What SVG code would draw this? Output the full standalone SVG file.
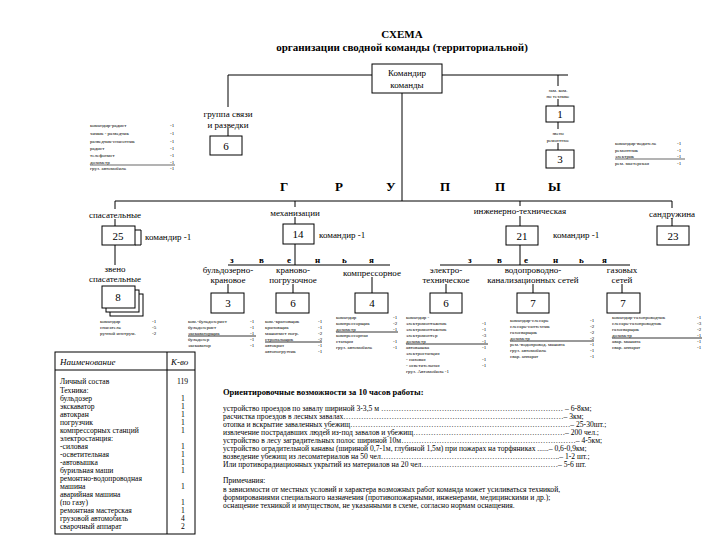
<svg xmlns="http://www.w3.org/2000/svg" width="720" height="540" viewBox="0 0 720 540">
<style>
text{font-family:"Liberation Serif","Times New Roman",serif;fill:#000}
.t{font-size:11px;font-weight:bold}
.l{font-size:9px}
.r{font-size:7.6px}
.s{font-size:5px}
.n{font-size:11px}
.b{font-size:13px;font-weight:bold}
.z{font-size:9px;font-weight:bold}
.m{text-anchor:middle}
rect{fill:#fff;stroke:#000;stroke-width:1}
line,path{stroke:#000;stroke-width:1;fill:none}
</style>
<rect x="0" y="0" width="720" height="540" style="stroke:none"/>
<text class="t m" x="402" y="38">СХЕМА</text>
<text class="t m" x="402" y="51">организации сводной команды  (территориальной)</text>
<g id="connectors">
<line x1="228" y1="75" x2="568" y2="75"/>
<line x1="228" y1="75" x2="228" y2="107"/>
<line x1="228" y1="128" x2="228" y2="136"/>
<line x1="558" y1="75" x2="558" y2="86"/>
<line x1="558" y1="99" x2="558" y2="106"/>
<line x1="402" y1="93" x2="402" y2="201"/>
<line x1="115" y1="201" x2="672" y2="201"/>
<line x1="115" y1="201" x2="115" y2="209"/>
<line x1="115" y1="219" x2="115" y2="226"/>
<line x1="115" y1="245" x2="115" y2="265"/>
<line x1="295" y1="201" x2="295" y2="207"/>
<line x1="295" y1="217" x2="295" y2="224"/>
<line x1="520" y1="201" x2="520" y2="206"/>
<line x1="520" y1="216" x2="520" y2="226"/>
<line x1="672" y1="201" x2="672" y2="208"/>
<line x1="672" y1="218" x2="672" y2="226"/>
<line x1="295" y1="244" x2="295" y2="265"/>
<line x1="228" y1="265" x2="390" y2="265"/>
<line x1="228" y1="284" x2="228" y2="293"/>
<line x1="293" y1="284" x2="293" y2="293"/>
<line x1="372" y1="277" x2="372" y2="293"/>
<line x1="520" y1="245" x2="520" y2="265"/>
<line x1="440" y1="265" x2="630" y2="265"/>
<line x1="446" y1="284" x2="446" y2="293"/>
<line x1="533" y1="284" x2="533" y2="293"/>
<line x1="622" y1="284" x2="622" y2="293"/>
<path d="M135 230 H141 V245 H135"/>
</g>
<g id="n-commander"><rect x="372" y="64" width="70" height="29"/>
<text class="l m" x="407" y="76">Командир</text><text class="l m" x="407" y="88">команды</text></g>
<g id="n-svyaz">
<text class="l m" x="228" y="117">группа связи</text><text class="l m" x="228" y="128">и разведки</text>
<rect x="210" y="136" width="32" height="19"/><text class="n m" x="226" y="150">6</text></g>
<g id="list-svyaz" class="s">
<text x="90" y="127">командир-радист</text><text x="90" y="135">химик - разведчик</text><text x="90" y="143">разведчик-снасотник</text><text x="90" y="150">радист</text><text x="90" y="157">телефонист</text><text x="90" y="164">дозиметр</text><text x="90" y="170">груз. автомобиль</text>
<text x="170" y="127">-1</text><text x="170" y="135">-1</text><text x="170" y="143">-1</text><text x="170" y="150">-1</text><text x="170" y="157">-1</text><text x="170" y="164">-1</text><text x="170" y="170">-1</text>
<line x1="90" y1="165" x2="175" y2="165" style="stroke-width:.6"/></g>
<g id="n-zam">
<text class="s m" x="558" y="92">зам. ком.</text><text class="s m" x="558" y="98">по технике</text>
<rect x="546" y="106" width="28" height="16"/><text class="n m" x="560" y="118">1</text>
<line x1="558" y1="122" x2="558" y2="129"/>
<text class="s m" x="558" y="135">звено</text><text class="s m" x="558" y="142">ремонтное</text>
<line x1="558" y1="143" x2="558" y2="150"/>
<rect x="546" y="150" width="28" height="18"/><text class="n m" x="560" y="163">3</text></g>
<g id="list-rem" class="s">
<text x="615" y="145">командир-водитель</text><text x="615" y="152">ремонтник</text><text x="615" y="158">электрик</text><text x="615" y="165">рем. мастерская</text>
<text x="677" y="145">-1</text><text x="677" y="152">-1</text><text x="677" y="158">-1</text><text x="677" y="165">-1</text>
<line x1="615" y1="159" x2="685" y2="159" style="stroke-width:.6"/></g>
<g id="groups" class="b">
<text x="280" y="191">Г</text><text x="335" y="191">Р</text><text x="386" y="191">У</text><text x="440" y="191">П</text><text x="495" y="191">П</text><text x="548" y="191">Ы</text></g>
<g id="n-spas">
<text class="l m" x="115" y="218">спасательные</text>
<rect x="102" y="226" width="33" height="19"/><text class="n m" x="118" y="240">25</text>
<text class="l" x="145" y="240">командир   -1</text></g>
<g id="n-mech">
<text class="l m" x="295" y="216">механизации</text>
<rect x="283" y="224" width="31" height="20"/><text class="n m" x="298" y="238">14</text>
<text class="l" x="319" y="238">командир   -1</text></g>
<g id="n-eng">
<text class="l m" x="520" y="214">инженерно-техническая</text>
<rect x="506" y="226" width="32" height="19"/><text class="n m" x="522" y="240">21</text>
<text class="l" x="553" y="238">командир   -1</text></g>
<g id="n-pozh">
<text class="l m" x="672" y="217">сандружина</text>
<rect x="657" y="226" width="32" height="19"/><text class="n m" x="673" y="240">23</text></g>
<g id="n-zveno-spas">
<text class="l m" x="115" y="272">звено</text><text class="l m" x="115" y="282">спасательные</text>
<rect x="110" y="294" width="33" height="22"/><rect x="106" y="290" width="33" height="22"/><rect x="102" y="286" width="33" height="22"/>
<text class="n m" x="118" y="301">8</text>
<g class="s"><text x="100" y="323">командир</text><text x="100" y="329">спасатель</text><text x="100" y="335">ручной инструм.</text>
<text x="152" y="323">-1</text><text x="152" y="329">-5</text><text x="152" y="335">-2</text></g></g>
<g id="zvenya1" class="z"><text x="230" y="263">з</text><text x="259" y="263">в</text><text x="287" y="263">е</text><text x="315" y="263">н</text><text x="342" y="263">ь</text><text x="369" y="263">я</text></g>
<g id="zvenya2" class="z"><text x="468" y="263">з</text><text x="497" y="263">в</text><text x="524" y="263">е</text><text x="553" y="263">н</text><text x="579" y="263">ь</text><text x="602" y="263">я</text></g>
<g id="n-buld">
<text class="l m" x="228" y="273">бульдозерно-</text><text class="l m" x="228" y="283">крановое</text>
<rect x="211" y="293" width="33" height="20"/><text class="n m" x="228" y="307">3</text>
<g class="s"><text x="188" y="323">ком.-бульдозерист</text><text x="188" y="329">бульдозерист</text><text x="188" y="335">экскаваторщик</text><text x="188" y="341">бульдозер</text><text x="188" y="347">экскаватор</text>
<text x="250" y="323">-1</text><text x="250" y="329">-1</text><text x="250" y="335">-1</text><text x="250" y="341">-1</text><text x="250" y="347">-1</text>
<line x1="188" y1="336" x2="256" y2="336" style="stroke-width:.8"/></g></g>
<g id="n-kran">
<text class="l m" x="293" y="273">крановo-</text><text class="l m" x="293" y="283">погрузочное</text>
<rect x="276" y="293" width="33" height="20"/><text class="n m" x="293" y="307">6</text>
<g class="s"><text x="265" y="323">ком.-крановщик</text><text x="265" y="329">крановщик</text><text x="265" y="335">машинист погр.</text><text x="265" y="341">стропальщик</text><text x="265" y="347">автокран</text><text x="265" y="353">автопогрузчик</text>
<text x="318" y="323">-1</text><text x="318" y="329">-1</text><text x="318" y="335">-2</text><text x="318" y="341">-2</text><text x="318" y="347">-1</text><text x="318" y="353">-1</text>
<line x1="265" y1="342" x2="322" y2="342" style="stroke-width:.8"/></g></g>
<g id="n-komp">
<text class="l m" x="372" y="276">компрессорное</text>
<rect x="355" y="293" width="33" height="20"/><text class="n m" x="372" y="307">4</text>
<g class="s"><text x="336" y="319">командир</text><text x="336" y="325">компрессорщик</text><text x="336" y="331">дозиметр</text><text x="336" y="337">компрессорная</text><text x="336" y="343">станция</text><text x="336" y="349">груз. автомобиль</text>
<text x="393" y="319">-1</text><text x="393" y="325">-2</text><text x="393" y="331">-1</text><text x="393" y="343">-1</text><text x="393" y="349">-1</text>
<line x1="336" y1="332" x2="398" y2="332" style="stroke-width:.8"/></g></g>
<g id="n-elec">
<text class="l m" x="446" y="273">электро-</text><text class="l m" x="446" y="283">техническое</text>
<rect x="430" y="293" width="32" height="20"/><text class="n m" x="446" y="307">6</text>
<g class="s"><text x="406" y="319">командир -</text><text x="406" y="325">электромонтажник</text><text x="406" y="331">электромонтажник</text><text x="406" y="337">электромонтер</text><text x="406" y="343">дозиметр</text><text x="406" y="349">автовышка</text><text x="406" y="355">электростанция</text><text x="406" y="361">- силовая</text><text x="406" y="367">- осветительная</text><text x="406" y="373">груз. Автомобиль -1</text>
<text x="482" y="325">-1</text><text x="482" y="331">-1</text><text x="482" y="337">-3</text><text x="482" y="343">-1</text><text x="482" y="349">-1</text><text x="482" y="361">-1</text><text x="482" y="367">-1</text>
<line x1="406" y1="344" x2="488" y2="344" style="stroke-width:.8"/></g></g>
<g id="n-vod">
<text class="l m" x="533" y="273">водопроводно-</text><text class="l m" x="533" y="283">канализационных сетей</text>
<rect x="517" y="293" width="32" height="20"/><text class="n m" x="533" y="307">7</text>
<g class="s"><text x="510" y="322">командир-слесарь</text><text x="510" y="328">слесарь-сантехник</text><text x="510" y="334">газосварщик</text><text x="510" y="340">дозиметр</text><text x="510" y="346">рем.-водопровод. машина</text><text x="510" y="352">груз. автомобиль</text><text x="510" y="358">свар. аппарат</text>
<text x="590" y="322">-1</text><text x="590" y="328">-2</text><text x="590" y="334">-2</text><text x="590" y="340">-2</text><text x="590" y="346">-1</text><text x="590" y="352">-1</text><text x="590" y="358">-1</text>
<line x1="510" y1="341" x2="594" y2="341" style="stroke-width:.8"/></g></g>
<g id="n-gaz">
<text class="l m" x="622" y="273">газовых</text><text class="l m" x="622" y="283">сетей</text>
<rect x="607" y="293" width="33" height="20"/><text class="n m" x="623" y="307">7</text>
<g class="s"><text x="612" y="319">командир-газопроводчик</text><text x="612" y="325">слесарь-газопроводчик</text><text x="612" y="331">газосварщик</text><text x="612" y="337">дозиметр</text><text x="612" y="343">авар. машина</text><text x="612" y="349">свар. аппарат</text>
<text x="697" y="319">-1</text><text x="697" y="325">-3</text><text x="697" y="331">-2</text><text x="697" y="337">-1</text><text x="697" y="343">-1</text><text x="697" y="349">-1</text>
<line x1="612" y1="338" x2="702" y2="338" style="stroke-width:.8"/></g></g>
<g id="table">
<rect x="55" y="352" width="140" height="182"/>
<line x1="167" y1="352" x2="167" y2="534"/><line x1="55" y1="370" x2="195" y2="370"/>
<text class="l" x="60" y="365" style="font-style:italic">Наименование</text><text class="l" x="171" y="365" style="font-style:italic">К-во</text>
<g class="r"><text x="60" y="384">Личный состав</text><text x="60" y="393">Техника:</text><text x="60" y="401">бульдозер</text><text x="60" y="409">экскаватор</text><text x="60" y="417">автокран</text><text x="60" y="425">погрузчик</text><text x="60" y="433">компрессорных станций</text><text x="60" y="441">электростанция:</text><text x="60" y="449">-силовая</text><text x="60" y="457">-осветительная</text><text x="60" y="465">-автовышка</text><text x="60" y="473">бурильная маши</text><text x="60" y="481">ремонтно-водопроводная</text><text x="60" y="489"> машина</text><text x="60" y="497">аварийная машина</text><text x="60" y="505">(по газу)</text><text x="60" y="513">ремонтная мастерская</text><text x="60" y="521">грузовой автомобиль</text><text x="60" y="529">сварочный аппарат</text>
<text x="177" y="384">119</text><text x="181" y="401">1</text><text x="181" y="409">1</text><text x="181" y="417">1</text><text x="181" y="425">1</text><text x="181" y="433">1</text><text x="181" y="449">1</text><text x="181" y="457">1</text><text x="181" y="465">1</text><text x="181" y="473">1</text><text x="181" y="489">1</text><text x="181" y="505">1</text><text x="181" y="513">1</text><text x="181" y="521">4</text><text x="181" y="529">2</text></g></g>
<g id="notes" class="r">
<text x="223" y="395" style="font-weight:bold;font-size:8.5px">Ориентировочные возможности за 10 часов работы:</text>
<text x="223" y="411">устройство проездов по завалу шириной 3-3,5 м ……………………………………………………………… – 6-8км;</text>
<text x="223" y="419">расчистка проездов в лесных завалах……………………………………………………………………………– 3км;</text>
<text x="223" y="427">отопка и вскрытие заваленных убежищ……………………………………………………………………………– 25-30шт.;</text>
<text x="223" y="435">извлечение пострадавших людей из-под завалов и убежищ……………………………………………………– 200 чел.;</text>
<text x="223" y="443">устройство в лесу заградительных полос шириной 10м……………………………………………………………– 4-5км;</text>
<text x="223" y="451">устройство оградительной канавы (шириной 0,7-1м, глубиной 1,5м) при пожарах на торфяниках ......– 0,6-0,9км;</text>
<text x="223" y="459">возведение убежищ из лесоматериалов на 50 чел……………………………………………………………..– 1-2 шт.;</text>
<text x="223" y="467">Или противорадиационных укрытий из материалов на 20 чел………………………………………………– 5-6 шт.</text>
<text x="223" y="483">Примечания:</text>
<text x="223" y="492">   в зависимости от местных условий и характера возможных работ команда может усиливаться техникой,</text>
<text x="223" y="500">формированиями специального назначения (противопожарными, инженерами, медицинскими и др.);</text>
<text x="223" y="508">оснащение техникой и имуществом, не указанными в схеме, согласно нормам оснащения.</text>
</g>
</svg>
